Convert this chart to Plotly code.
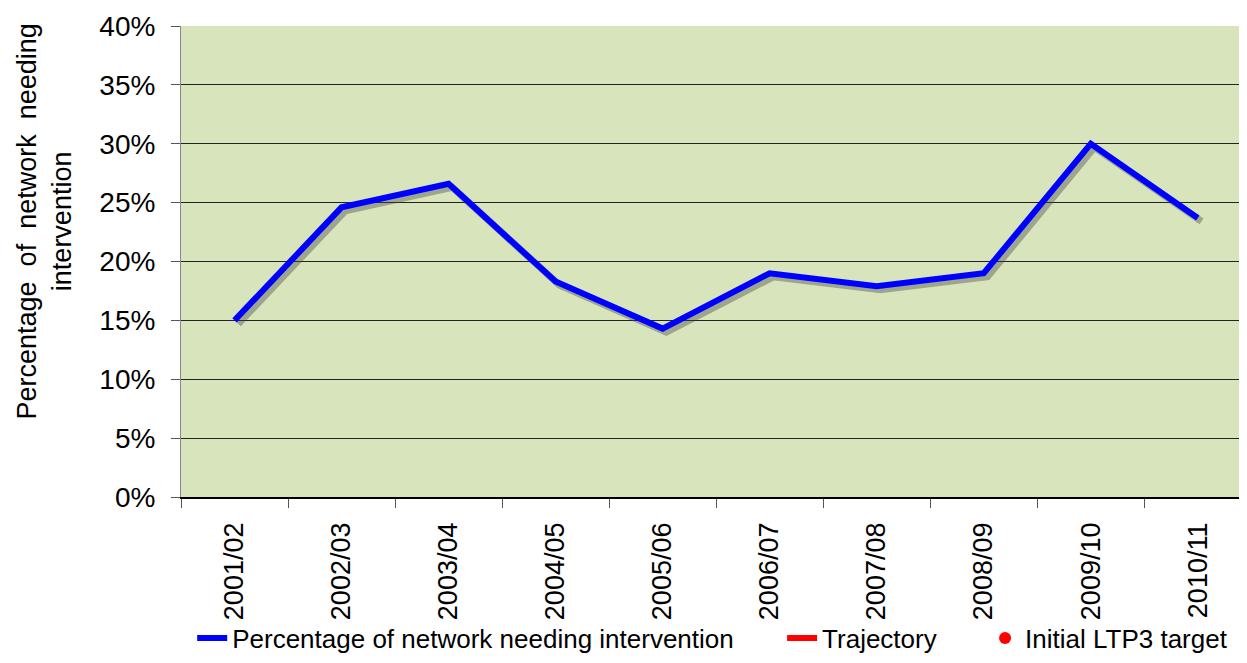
"""Network intervention share by year, line chart."""

import plotly.graph_objects as go

years = ["2001/02", "2002/03", "2003/04", "2004/05", "2005/06",
         "2006/07", "2007/08", "2008/09", "2009/10", "2010/11"]
pct_intervention = [0.150, 0.246, 0.266, 0.183, 0.143,
                    0.190, 0.179, 0.190, 0.300, 0.237]
y_ticks = [0.0, 0.05, 0.10, 0.15, 0.20, 0.25, 0.30, 0.35, 0.40]

FONT = "Liberation Sans, Arial, sans-serif"
NB = "\u00a0"
xs = list(range(len(years)))

fig = go.Figure()

# soft drop shadow under the main line
fig.add_trace(go.Scatter(
    x=[x + 0.035 for x in xs], y=[v - 0.003 for v in pct_intervention],
    mode="lines", line=dict(color="rgba(70,70,70,0.4)", width=7),
    hoverinfo="skip", showlegend=False,
))
fig.add_trace(go.Scatter(
    x=xs, y=pct_intervention, mode="lines",
    name="Percentage of network needing intervention" + NB * 6,
    line=dict(color="#0000FF", width=6),
))
fig.add_trace(go.Scatter(
    x=[None], y=[None], mode="lines", name="Trajectory" + NB * 6,
    line=dict(color="#FF0000", width=6),
))
fig.add_trace(go.Scatter(
    x=[None], y=[None], mode="markers", name="Initial LTP3 target",
    marker=dict(color="#FF0000", size=12),
))

# page body has an 8px margin, so the figure is sized to fit the window
fig.update_layout(
    width=1239, height=647,
    margin=dict(l=173, r=0, t=18, b=158, autoexpand=False),
    paper_bgcolor="white",
    plot_bgcolor="#D8E4BC",
    font=dict(family=FONT, size=26, color="#000000"),
    showlegend=True,
    legend=dict(
        orientation="h", x=0.0105, xanchor="left", y=-0.2994, yanchor="middle",
        font=dict(size=26), tracegroupgap=0,
        bgcolor="rgba(0,0,0,0)",
    ),
    annotations=[dict(
        text="Percentage  of  network  needing<br>intervention",
        textangle=-90, xref="paper", yref="paper",
        x=-0.1285, y=0.585, xanchor="center", yanchor="middle",
        showarrow=False, font=dict(size=27),
    )],
)

fig.update_xaxes(
    range=[-0.5, 9.46], automargin=False,
    tickmode="array", tickvals=xs, ticktext=years, tickangle=-90,
    tickfont=dict(size=27), ticks="", ticklabelstandoff=13,
    showgrid=False, zeroline=False,
    showline=True, linecolor="#000000", linewidth=1.5,
    minor=dict(tick0=-0.5, dtick=1, ticks="outside", ticklen=9,
               tickcolor="#555555", tickwidth=1, showgrid=False),
)
fig.update_yaxes(
    range=[0, 0.40], automargin=False,
    tickmode="array", tickvals=y_ticks, tickformat=".0%",
    tickfont=dict(size=28), ticks="outside", ticklen=9, tickcolor="#555555",
    ticklabelstandoff=10,
    showgrid=True, gridcolor="#222222", gridwidth=1, zeroline=False,
    showline=True, linecolor="#888888", linewidth=1,
)

fig.write_html("out.html")
